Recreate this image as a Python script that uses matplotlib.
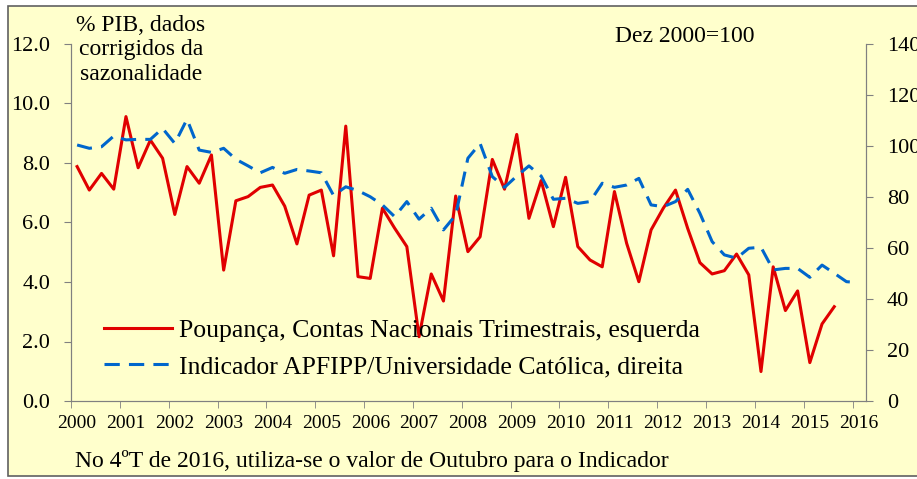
import matplotlib
matplotlib.use("Agg")
import matplotlib.pyplot as plt
from matplotlib.patches import Rectangle
import numpy as np

plt.rcParams['font.family'] = ['Liberation Serif', 'DejaVu Serif']

# quarterly, 2000Q1 onwards
poupanca = [7.88, 7.09, 7.65, 7.12, 9.56, 7.84, 8.77, 8.16,
            6.27, 7.88, 7.32, 8.27, 4.40, 6.73, 6.87, 7.18,
            7.26, 6.55, 5.28, 6.92, 7.09, 4.88, 9.24, 4.18,
            4.12, 6.48, 5.81, 5.19, 2.16, 4.27, 3.36, 6.89,
            5.02, 5.52, 8.12, 7.12, 8.96, 6.14, 7.41, 5.86,
            7.52, 5.19, 4.74, 4.51, 7.04, 5.30, 4.01, 5.75,
            6.48, 7.09, 5.80, 4.65, 4.27, 4.38, 4.94, 4.24,
            0.99, 4.51, 3.04, 3.70, 1.29, 2.59, 3.17]

indicador = [100.4, 99.1, 99.7, 103.9, 102.4, 102.6, 102.6, 106.9,
             101.0, 110.5, 98.4, 97.5, 99.1, 94.8, 92.2, 89.5,
             91.6, 89.3, 90.8, 90.2, 89.5, 80.6, 84.0, 82.5,
             80.1, 76.9, 72.3, 78.2, 71.3, 75.6, 67.1, 72.9,
             95.2, 101.0, 88.0, 83.8, 88.2, 92.2, 88.2, 79.1,
             79.5, 77.5, 78.2, 85.4, 83.8, 84.7, 87.3, 76.9,
             76.2, 78.2, 83.0, 73.6, 62.5, 57.3, 56.0, 59.9,
             60.3, 51.4, 52.0, 52.0, 48.5, 53.3, 50.1, 46.8, 46.4]

anos = [str(a) for a in range(2000, 2017)]

bg = '#FFFFCC'
red = '#E00000'
blue = '#0066CC'
grey = '#808080'

W, H = 917, 479
fig = plt.figure(figsize=(W / 100, H / 100), dpi=100)
fig.patch.set_facecolor('white')
fig.patches.append(Rectangle((8 / W, 3 / H), 1.0, 1 - 9 / H, transform=fig.transFigure,
                             facecolor=bg, edgecolor='#606060', linewidth=1.2, zorder=-5))

ax = fig.add_axes([71 / W, 1 - 401 / H, (866 - 71) / W, (401 - 44) / H])
ax.set_facecolor('none')
ax2 = ax.twinx()

x1 = np.arange(len(poupanca))
x2 = np.arange(len(indicador))
l1, = ax.plot(x1, poupanca, color=red, lw=2.2,
              label='Poupança, Contas Nacionais Trimestrais, esquerda')
l2, = ax2.plot(x2, indicador, color=blue, lw=2.2, dashes=(5, 3),
               label='Indicador APFIPP/Universidade Católica, direita')

ax.set_xlim(-0.5, 64.6)
ax.set_ylim(0, 12)
ax2.set_ylim(0, 140)
ax.set_yticks(np.arange(0, 12.1, 2))
ax.set_yticklabels(['%.1f' % v for v in np.arange(0, 12.1, 2)])
ax2.set_yticks(np.arange(0, 141, 20))

ax.set_xticks(np.arange(0, 65, 4))
ax.set_xticklabels(anos)
ax.set_xticks(np.arange(-0.5, 65, 4), minor=True)
ax.tick_params(axis='x', which='major', length=0, labelsize=14, pad=10)
ax.tick_params(axis='x', which='minor', length=5, color=grey)
ax.tick_params(axis='y', labelsize=16, length=5, color=grey, pad=10)
ax2.tick_params(axis='y', labelsize=16, length=5, color=grey, pad=10)

for a in (ax, ax2):
    a.spines['top'].set_visible(False)
    for s in ('left', 'right', 'bottom'):
        a.spines[s].set_color(grey)

leg = ax.legend(handles=[l1, l2], loc='upper left', bbox_to_anchor=(0.028, 0.258),
                frameon=False, fontsize=18.5, handlelength=2.65, handletextpad=0.3,
                labelspacing=0.5, borderaxespad=0)

fig.text(141 / W, 1 - 50 / H, '% PIB, dados\ncorrigidos da\nsazonalidade', ha='center',
         va='center', fontsize=17, linespacing=1.22, multialignment='center')
fig.text(685 / W, 1 - 36 / H, 'Dez 2000=100', ha='center', va='center', fontsize=17)
fig.text(75 / W, 1 - 461 / H, 'No 4ºT de 2016, utiliza-se o valor de Outubro para o Indicador',
         ha='left', va='center', fontsize=17)

fig.savefig('out.png', dpi=100, facecolor=fig.get_facecolor())
